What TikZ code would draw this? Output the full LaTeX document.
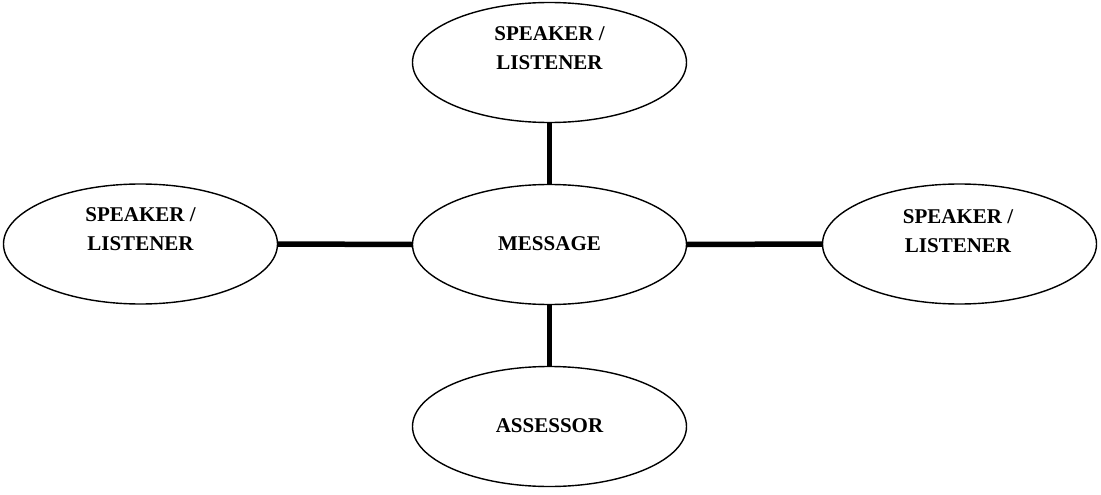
\documentclass[tikz,border=0pt]{standalone}
\usepackage{fontspec}
\setmainfont{Liberation Serif}
\usetikzlibrary{shapes.geometric}
\begin{document}
\begin{tikzpicture}[x=1pt,y=-1pt,
  ell/.style={draw=black, line width=1.4pt, ellipse, minimum width=274pt, minimum height=120pt, inner sep=0pt},
  txt/.style={font=\fontsize{21}{29}\selectfont\bfseries, align=center, inner sep=0pt},
  conn/.style={line width=5.5pt, black}]
\useasboundingbox (0,0) rectangle (1101,495);
\node[ell] (top) at (549.5,62.5) {};
\node[ell] (msg) at (549.5,244.5) {};
\node[ell] (left) at (140.5,244) {};
\node[ell] (right) at (959.5,244) {};
\node[ell] (bot) at (549.5,426.5) {};
\node[txt] (ttop) at (549.5,48) {SPEAKER /\\LISTENER};
\node[txt] (tleft) at (140.5,229.5) {SPEAKER /\\LISTENER};
\node[txt] (tright) at (958,231) {SPEAKER /\\LISTENER};
\node[txt] (tmsg) at (549.5,244) {MESSAGE};
\node[txt] (tbot) at (549.5,426) {ASSESSOR};
\draw[conn] (top.south) -- (msg.north);
\draw[conn] (msg.south) -- (bot.north);
\draw[conn] (left.east) -- (msg.west);
\draw[conn] (msg.east) -- (right.west);
\end{tikzpicture}
\end{document}
